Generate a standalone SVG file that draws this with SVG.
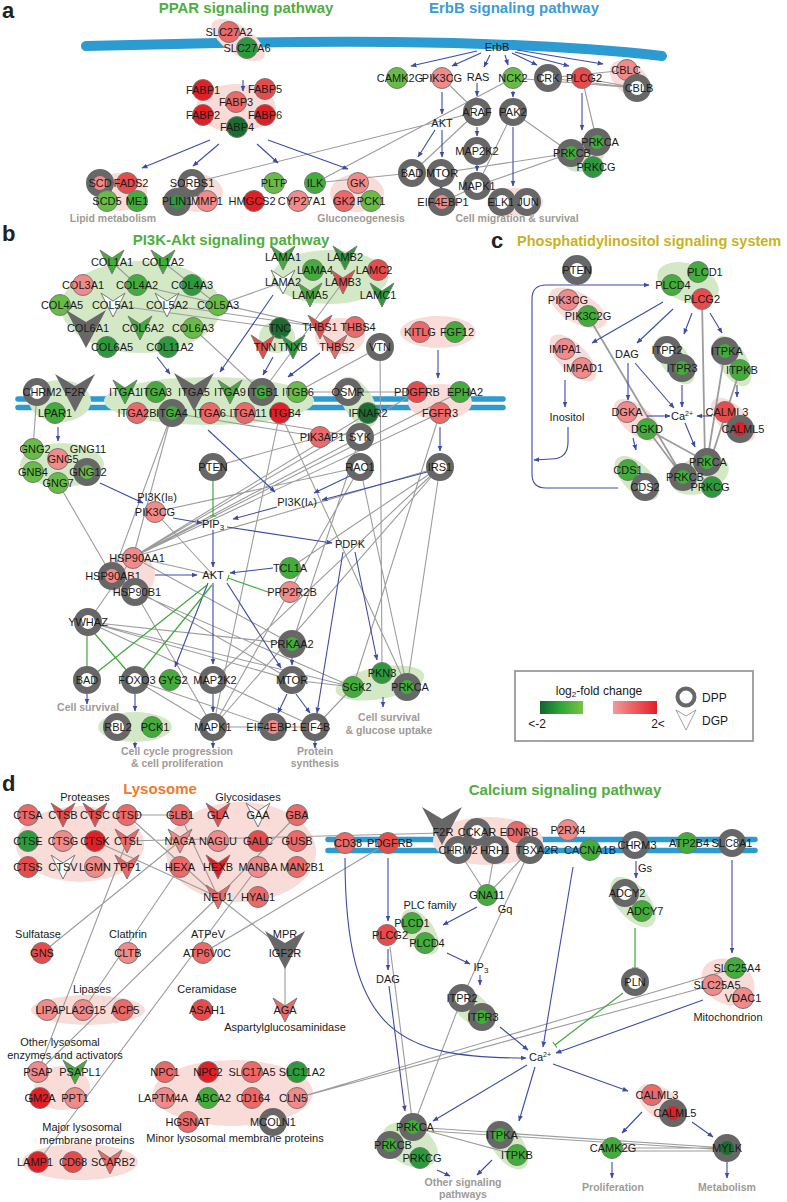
<svg xmlns="http://www.w3.org/2000/svg" xmlns:xlink="http://www.w3.org/1999/xlink" width="787" height="1202" viewBox="0 0 787 1202">
<style>
text{font-family:"Liberation Sans",Arial,sans-serif;font-size:11px;fill:#1a1a1a;text-anchor:middle}
.ttl{font-size:15px;font-weight:bold}
.pl{font-size:22px;font-weight:bold;text-anchor:start;fill:#222}
.out{font-size:10.5px;font-weight:bold;fill:#a09a96}
.n{stroke:#777;stroke-width:1}
.d{stroke:#676767;stroke-width:7}
.v{stroke:#777;stroke-width:1}
.bv{fill:#676767}
.gl{stroke:#9c9c9c;stroke-width:1.1;fill:none}
.gt{stroke:#9c9c9c;stroke-width:1.8;fill:none}
.bl{stroke:#3c4ba6;stroke-width:1.1;fill:none;marker-end:url(#ab)}
.ih{stroke:#3cab37;stroke-width:1.2;fill:none;marker-end:url(#ti)}
.pk{fill:#f9dbd7}
.gr{fill:#d3e9c6}
.mem{stroke:#2b9bd2;fill:none;stroke-linecap:round}
.R1{fill:#e31e24}.R2{fill:#e94a4a}.R3{fill:#ee6868}.R4{fill:#f28a8a}
.G1{fill:#1c6e30}.G2{fill:#2a9a3a}.G3{fill:#43ad3a}.G4{fill:#67bc45}.W{fill:#fff}
</style>
<defs>
<marker id="ab" viewBox="0 0 10 10" refX="9" refY="5" markerWidth="6" markerHeight="6" orient="auto" markerUnits="userSpaceOnUse"><path d="M0,1 L10,5 L0,9 z" fill="#3c4ba6"/></marker>
<marker id="ti" viewBox="0 0 2 10" refX="1" refY="5" markerWidth="2" markerHeight="7" orient="auto" markerUnits="userSpaceOnUse"><path d="M1,0 V10" stroke="#3cab37" stroke-width="1.5"/></marker>
<path id="v" d="M-12,-12 L0,-4 L12,-12 L0,12 Z"/>
<path id="bv" d="M-20,-19 L0,-7 L20,-19 L0,19 Z"/>
<linearGradient id="gg" x1="0" x2="1" y1="0" y2="0"><stop offset="0" stop-color="#14632c"/><stop offset="0.5" stop-color="#2ea83a"/><stop offset="1" stop-color="#7cc242"/></linearGradient>
<linearGradient id="rg" x1="0" x2="1" y1="0" y2="0"><stop offset="0" stop-color="#f29a9a"/><stop offset="1" stop-color="#e31e24"/></linearGradient>
</defs>
<rect width="787" height="1202" fill="#fff"/>

<g id="titles">
<text class="pl" x="2" y="18">a</text>
<text class="ttl" x="246" y="13" style="fill:#4fae3f">PPAR signaling pathway</text>
<text class="ttl" x="514" y="13" style="fill:#3b9bd6">ErbB signaling pathway</text>
<text class="pl" x="2" y="241">b</text>
<text class="ttl" x="231" y="245" style="fill:#4fae3f">PI3K-Akt signaling pathway</text>
<text class="pl" x="491" y="248">c</text>
<text class="ttl" x="517" y="246" style="fill:#c8b21e;text-anchor:start;font-size:14.5px">Phosphatidylinositol signaling system</text>
<text class="pl" x="2" y="791">d</text>
<text class="ttl" x="160" y="794" style="fill:#ef7a2e">Lysosome</text>
<text class="ttl" x="565" y="795" style="fill:#4fae3f">Calcium signaling pathway</text>
</g>

<g id="membranes">
<path class="mem" d="M86,46 C300,40 500,38 662,56" stroke-width="10"/>
<line class="mem" x1="18" y1="399" x2="503" y2="399" stroke-width="5.5"/>
<line class="mem" x1="18" y1="407.5" x2="503" y2="407.5" stroke-width="5.5"/>
<line class="mem" x1="328" y1="839.5" x2="755" y2="839.5" stroke-width="5.5"/>
<line class="mem" x1="328" y1="850.5" x2="755" y2="850.5" stroke-width="5.5"/>
</g>

<g id="complexes">
<ellipse class="pk" cx="238" cy="40" rx="31" ry="14" transform="rotate(35 238 40)"/>
<ellipse class="pk" cx="236" cy="108" rx="40" ry="24"/>
<ellipse class="pk" cx="120" cy="192" rx="27" ry="19"/>
<ellipse class="pk" cx="197" cy="193" rx="26" ry="19"/>
<ellipse class="pk" cx="357" cy="193" rx="27" ry="19"/>
<ellipse class="pk" cx="630" cy="79" rx="23" ry="15" transform="rotate(40 630 79)"/>
<ellipse class="pk" cx="515" cy="202" rx="28" ry="14"/>
<ellipse class="gr" cx="585" cy="155" rx="22" ry="15" transform="rotate(-30 585 155)"/>
<ellipse class="gr" cx="141" cy="307" rx="80" ry="46"/>
<ellipse class="gr" cx="330" cy="277" rx="58" ry="27"/>
<ellipse class="gr" cx="277" cy="337" rx="18" ry="16"/>
<ellipse class="pk" cx="340" cy="336" rx="25" ry="18"/>
<ellipse class="pk" cx="438" cy="332" rx="38" ry="16"/>
<ellipse class="gr" cx="60" cy="401" rx="31" ry="21"/>
<ellipse class="gr" cx="209" cy="401" rx="105" ry="24"/>
<ellipse class="gr" cx="358" cy="402" rx="28" ry="15" transform="rotate(59 358 402)"/>
<ellipse class="pk" cx="440" cy="402" rx="32" ry="18"/>
<ellipse class="gr" cx="62" cy="465" rx="42" ry="22"/>
<ellipse class="pk" cx="130" cy="575" rx="25" ry="23"/>
<ellipse class="gr" cx="380" cy="683" rx="45" ry="16" transform="rotate(-10 380 683)"/>
<ellipse class="gr" cx="135" cy="727" rx="37" ry="15"/>
<ellipse class="gr" cx="688" cy="283" rx="32" ry="19" transform="rotate(20 688 283)"/>
<ellipse class="pk" cx="578" cy="308" rx="32" ry="15" transform="rotate(30 578 308)"/>
<ellipse class="pk" cx="573" cy="358" rx="30" ry="14" transform="rotate(45 573 358)"/>
<ellipse class="gr" cx="675" cy="360" rx="28" ry="14" transform="rotate(55 675 360)"/>
<ellipse class="gr" cx="733" cy="361" rx="28" ry="14" transform="rotate(60 733 361)"/>
<ellipse class="pk" cx="637" cy="420" rx="28" ry="14" transform="rotate(40 637 420)"/>
<ellipse class="pk" cx="733" cy="420" rx="28" ry="14" transform="rotate(45 733 420)"/>
<ellipse class="gr" cx="637" cy="478" rx="28" ry="14" transform="rotate(45 637 478)"/>
<ellipse class="gr" cx="700" cy="475" rx="30" ry="18" transform="rotate(-20 700 475)"/>
<ellipse class="pk" cx="80" cy="844" rx="64" ry="38"/>
<ellipse class="pk" cx="241" cy="852" rx="75" ry="50"/>
<ellipse class="pk" cx="88" cy="1010" rx="57" ry="15"/>
<ellipse class="pk" cx="62" cy="1088" rx="28" ry="22"/>
<ellipse class="pk" cx="80" cy="1162" rx="58" ry="18"/>
<ellipse class="pk" cx="233" cy="1093" rx="80" ry="33"/>
<ellipse class="pk" cx="488" cy="841" rx="55" ry="24"/>
<ellipse class="gr" cx="420" cy="932" rx="26" ry="14" transform="rotate(55 420 932)"/>
<ellipse class="gr" cx="633" cy="902" rx="30" ry="16" transform="rotate(50 633 902)"/>
<ellipse class="pk" cx="728" cy="982" rx="28" ry="22" transform="rotate(30 728 982)"/>
<ellipse class="gr" cx="472" cy="1008" rx="28" ry="14" transform="rotate(40 472 1008)"/>
<ellipse class="gr" cx="410" cy="1145" rx="30" ry="20" transform="rotate(30 410 1145)"/>
<ellipse class="gr" cx="508" cy="1145" rx="28" ry="15" transform="rotate(55 508 1145)"/>
<ellipse class="pk" cx="662" cy="1104" rx="28" ry="15" transform="rotate(35 662 1104)"/>
</g>

<g id="connectors">
<!-- panel a grey -->
<path class="gl" d="M192,183 L477,112 M315,183 L513,78 M315,183 L412,173 M442,78 L477,112 M412,173 L477,112 M441,173 L571,153 M477,186 L513,112 M477,186 L571,153 M513,112 L571,153 M442,202 L477,186 M513,78 L637,88 M548,78 L637,88 M548,78 L627,70 M582,78 L637,88 M582,78 L597,142"/>
<!-- panel a blue -->
<line class="bl" x1="243" y1="80" x2="243" y2="91"/>
<line class="bl" x1="210" y1="140" x2="142" y2="168"/>
<line class="bl" x1="219" y1="144" x2="193" y2="166"/>
<line class="bl" x1="257" y1="144" x2="278" y2="163"/>
<line class="bl" x1="268" y1="140" x2="348" y2="169"/>
<line class="bl" x1="477" y1="51" x2="411" y2="66"/>
<line class="bl" x1="481" y1="53" x2="452" y2="66"/>
<line class="bl" x1="490" y1="55" x2="484" y2="67"/>
<line class="bl" x1="505" y1="55" x2="508" y2="65"/>
<line class="bl" x1="512" y1="53" x2="537" y2="65"/>
<line class="bl" x1="515" y1="52" x2="569" y2="66"/>
<line class="bl" x1="517" y1="50" x2="603" y2="64"/>
<line class="bl" x1="442" y1="92" x2="442" y2="114"/>
<line class="bl" x1="477" y1="83" x2="477" y2="96"/>
<line class="bl" x1="513" y1="91" x2="513" y2="97"/>
<line class="bl" x1="435" y1="130" x2="418" y2="157"/>
<line class="bl" x1="442" y1="130" x2="442" y2="157"/>
<line class="bl" x1="477" y1="127" x2="477" y2="136"/>
<line class="bl" x1="477" y1="165" x2="477" y2="171"/>
<line class="bl" x1="513" y1="127" x2="513" y2="186"/>
<line class="bl" x1="441" y1="184" x2="441" y2="190"/>
<line class="bl" x1="582" y1="93" x2="582" y2="130"/>
<!-- panel b grey -->
<path class="gl" d="M112,262 L137,285 M163,262 L218,305 M137,285 L320,327 M167,305 L320,327 M113,305 L280,328 M193,328 L262,392 M283,282 L218,305 M343,282 L262,392 M380,347 L297,392 M297,392 L417,392 M172,413 L133,557 M172,413 L112,576 M172,413 L320,437 M210,413 L360,437 M280,413 L407,687 M280,413 L213,727 M213,467 L320,437 M155,512 L360,467 M155,512 L213,575 M133,557 L360,437 M133,557 L368,413 M133,557 L440,413 M133,557 L417,392 M133,557 L460,392 M133,557 L440,467 M440,467 L213,680 M440,467 L213,727 M440,467 L407,687 M440,413 L353,687 M380,347 L382,673 M360,467 L213,727 M360,467 L407,687 M292,644 L360,437 M290,568 L440,467 M133,557 L213,575 M133,557 L292,644 M112,576 L292,680 M135,592 L353,687 M135,592 L213,727 M88,622 L133,557 M88,622 L292,644 M88,622 L292,680 M88,622 L353,687 M88,622 L315,727 M58,483 L112,576 M135,680 L213,727 M135,680 L273,727 M213,727 L315,727 M292,680 L353,687 M353,687 L315,727 M37,392 L33,449"/>
<!-- panel b blue -->
<line class="bl" x1="157" y1="357" x2="170" y2="374"/>
<line class="bl" x1="273" y1="295" x2="220" y2="372"/>
<line class="bl" x1="273" y1="357" x2="263" y2="375"/>
<line class="bl" x1="320" y1="353" x2="288" y2="377"/>
<line class="bl" x1="438" y1="350" x2="438" y2="378"/>
<line class="bl" x1="440" y1="427" x2="440" y2="451"/>
<line class="bl" x1="58" y1="427" x2="58" y2="441"/>
<line class="bl" x1="100" y1="483" x2="143" y2="503"/>
<line class="bl" x1="173" y1="518" x2="202" y2="523"/>
<line class="bl" x1="277" y1="507" x2="233" y2="519"/>
<line class="bl" x1="208" y1="430" x2="275" y2="492"/>
<line class="bl" x1="352" y1="475" x2="314" y2="493"/>
<line class="bl" x1="427" y1="472" x2="322" y2="500"/>
<line class="bl" x1="227" y1="527" x2="332" y2="543"/>
<line class="bl" x1="213" y1="530" x2="213" y2="567"/>
<line class="bl" x1="155" y1="575" x2="197" y2="575"/>
<line class="bl" x1="273" y1="568" x2="230" y2="573"/>
<line class="bl" x1="208" y1="583" x2="175" y2="667"/>
<line class="bl" x1="213" y1="583" x2="213" y2="664"/>
<line class="bl" x1="227" y1="583" x2="281" y2="668"/>
<line class="bl" x1="292" y1="657" x2="292" y2="665"/>
<line class="bl" x1="287" y1="694" x2="278" y2="713"/>
<line class="bl" x1="296" y1="694" x2="310" y2="713"/>
<line class="bl" x1="343" y1="552" x2="317" y2="713"/>
<line class="bl" x1="355" y1="552" x2="377" y2="660"/>
<line class="bl" x1="213" y1="694" x2="213" y2="712"/>
<line class="bl" x1="87" y1="694" x2="87" y2="704"/>
<line class="bl" x1="135" y1="694" x2="135" y2="711"/>
<line class="bl" x1="135" y1="742" x2="135" y2="748"/>
<line class="bl" x1="213" y1="741" x2="213" y2="748"/>
<line class="bl" x1="315" y1="741" x2="315" y2="748"/>
<line class="bl" x1="383" y1="697" x2="383" y2="707"/>
<line class="ih" x1="213" y1="481" x2="213" y2="516"/>
<line class="ih" x1="268" y1="592" x2="228" y2="578"/>
<line class="ih" x1="207" y1="585" x2="96" y2="673"/>
<line class="ih" x1="212" y1="585" x2="142" y2="671"/>
<line class="ih" x1="87" y1="634" x2="87" y2="672"/>
<line class="ih" x1="95" y1="634" x2="128" y2="672"/>
<!-- panel c -->
<path class="gt" d="M588,316 L683,477 M702,299 L705,462 M725,351 L707,462 M740,370 L710,462 M647,429 L683,477 M647,429 L707,462"/>
<path class="bl" d="M618,488 L546,488 Q532,488 532,474 L532,299 Q532,285 546,285 L649,285"/>
<path class="bl" d="M568,427 L568,442 Q568,459 551,459 L534,460"/>
<line class="bl" x1="565" y1="380" x2="565" y2="407"/>
<line class="bl" x1="663" y1="302" x2="592" y2="343"/>
<line class="bl" x1="673" y1="309" x2="637" y2="343"/>
<line class="bl" x1="692" y1="313" x2="684" y2="334"/>
<line class="bl" x1="710" y1="313" x2="722" y2="333"/>
<line class="bl" x1="628" y1="363" x2="628" y2="400"/>
<line class="bl" x1="635" y1="363" x2="674" y2="408"/>
<line class="bl" x1="682" y1="385" x2="682" y2="407"/>
<line class="bl" x1="647" y1="416" x2="670" y2="416"/>
<line class="bl" x1="712" y1="416" x2="697" y2="416"/>
<line class="bl" x1="685" y1="423" x2="695" y2="447"/>
<line class="bl" x1="633" y1="438" x2="636" y2="450"/>
<line class="bl" x1="737" y1="385" x2="737" y2="397"/>
<!-- panel d grey -->
<path class="gl" d="M127,815 L180,815 M127,841 L442,833 M95,841 L218,897 M127,815 L218,897 M180,815 L218,897 M297,815 L218,897 M218,897 L285,950 M285,950 L285,1010 M180,841 L42,953 M180,867 L83,1010 M127,841 L38,1072 M218,897 L38,1072 M258,867 L38,1162 M203,953 L388,843 M297,1098 L713,985 M297,1098 L735,968 M458,850 L487,895 M495,850 L487,895 M530,850 L487,895 M530,850 L462,998 M390,947 L413,1127 M462,998 L413,1127 M413,1127 L517,1155 M413,1127 L727,1148 M413,1130 L727,1150 M612,1148 L727,1148 M612,1151 L727,1151"/>
<!-- panel d blue -->
<line class="bl" x1="388" y1="858" x2="388" y2="921"/>
<line class="bl" x1="388" y1="949" x2="388" y2="970"/>
<line class="bl" x1="389" y1="986" x2="405" y2="1111"/>
<line class="bl" x1="477" y1="907" x2="443" y2="925"/>
<line class="bl" x1="447" y1="953" x2="470" y2="964"/>
<line class="bl" x1="480" y1="975" x2="480" y2="985"/>
<line class="bl" x1="636" y1="861" x2="636" y2="878"/>
<line class="bl" x1="732" y1="860" x2="732" y2="953"/>
<line class="bl" x1="573" y1="867" x2="543" y2="1047"/>
<line class="bl" x1="703" y1="1000" x2="556" y2="1053"/>
<line class="bl" x1="500" y1="1027" x2="528" y2="1050"/>
<path class="bl" d="M345,858 C345,1035 400,1058 526,1058"/>
<line class="bl" x1="527" y1="1065" x2="433" y2="1121"/>
<line class="bl" x1="535" y1="1067" x2="519" y2="1121"/>
<line class="bl" x1="553" y1="1064" x2="628" y2="1091"/>
<line class="bl" x1="642" y1="1112" x2="622" y2="1133"/>
<line class="bl" x1="692" y1="1122" x2="713" y2="1137"/>
<line class="bl" x1="437" y1="1170" x2="450" y2="1176"/>
<line class="bl" x1="492" y1="1160" x2="477" y2="1175"/>
<line class="bl" x1="612" y1="1162" x2="612" y2="1178"/>
<line class="bl" x1="727" y1="1162" x2="727" y2="1178"/>
<line class="ih" x1="635" y1="928" x2="635" y2="968"/>
<line class="ih" x1="623" y1="993" x2="555" y2="1045"/>
</g>

<g id="nodes-a">
<g id="a-SLC27A2"><circle class="n R3" cx="229" cy="32" r="10.5"/><text x="229" y="36">SLC27A2</text></g>
<g id="a-SLC27A6"><circle class="n G2" cx="247" cy="48" r="10.5"/><text x="247" y="52">SLC27A6</text></g>
<g id="a-FABP1"><circle class="n R1" cx="203" cy="90" r="10.5"/><text x="203" y="94">FABP1</text></g>
<g id="a-FABP5"><circle class="n R2" cx="265" cy="89" r="10.5"/><text x="265" y="93">FABP5</text></g>
<g id="a-FABP3"><circle class="n R3" cx="236" cy="102" r="10.5"/><text x="236" y="106">FABP3</text></g>
<g id="a-FABP2"><circle class="n R1" cx="203" cy="115" r="10.5"/><text x="203" y="119">FABP2</text></g>
<g id="a-FABP6"><circle class="n R1" cx="265" cy="115" r="10.5"/><text x="265" y="119">FABP6</text></g>
<g id="a-FABP4"><circle class="n G1" cx="237" cy="127" r="10.5"/><text x="237" y="131">FABP4</text></g>
<g id="a-SCD"><circle class="d R4" cx="100" cy="183" r="10.5"/><text x="100" y="187">SCD</text></g>
<g id="a-FADS2"><circle class="n R2" cx="127" cy="183" r="10.5"/><text x="131" y="187">FADS2</text></g>
<g id="a-SCD5"><circle class="n G4" cx="107" cy="201" r="10.5"/><text x="107" y="205">SCD5</text></g>
<g id="a-ME1"><circle class="n G3" cx="137" cy="201" r="10.5"/><text x="137" y="205">ME1</text></g>
<g id="a-SORBS1"><circle class="d W" cx="192" cy="183" r="10.5"/><text x="192" y="187">SORBS1</text></g>
<g id="a-PLIN1"><circle class="d G2" cx="177" cy="202" r="10.5"/><text x="177" y="205">PLIN1</text></g>
<g id="a-MMP1"><circle class="n R4" cx="207" cy="201" r="10.5"/><text x="207" y="205">MMP1</text></g>
<g id="a-PLTP"><circle class="n G4" cx="274" cy="183" r="10.5"/><text x="274" y="187">PLTP</text></g>
<g id="a-HMGCS2"><circle class="n R1" cx="254" cy="201" r="10.5"/><text x="252" y="205">HMGCS2</text></g>
<g id="a-ILK"><circle class="n G3" cx="315" cy="183" r="10.5"/><text x="315" y="187">ILK</text></g>
<g id="a-CYP27A1"><circle class="n R4" cx="298" cy="201" r="10.5"/><text x="302" y="205">CYP27A1</text></g>
<g id="a-GK"><circle class="n R4" cx="358" cy="183" r="10.5"/><text x="358" y="187">GK</text></g>
<g id="a-GK2"><circle class="n R3" cx="344" cy="201" r="10.5"/><text x="344" y="205">GK2</text></g>
<g id="a-PCK1"><circle class="n G4" cx="371" cy="201" r="10.5"/><text x="371" y="205">PCK1</text></g>
<g id="a-ErbB"><text x="497" y="51">ErbB</text></g>
<g id="a-CAMK2G"><circle class="n G4" cx="397" cy="78" r="10.5"/><text x="400" y="82">CAMK2G</text></g>
<g id="a-PIK3CG"><circle class="n R4" cx="442" cy="78" r="10.5"/><text x="442" y="82">PIK3CG</text></g>
<g id="a-RAS"><text x="478" y="81">RAS</text></g>
<g id="a-NCK2"><circle class="n G4" cx="513" cy="78" r="10.5"/><text x="513" y="82">NCK2</text></g>
<g id="a-CRK"><circle class="d W" cx="548" cy="78" r="10.5"/><text x="548" y="82">CRK</text></g>
<g id="a-PLCG2"><circle class="n R2" cx="582" cy="78" r="10.5"/><text x="584" y="82">PLCG2</text></g>
<g id="a-CBLC"><circle class="n R4" cx="627" cy="70" r="10.5"/><text x="626" y="74">CBLC</text></g>
<g id="a-CBLB"><circle class="d W" cx="637" cy="88" r="10.5"/><text x="639" y="92">CBLB</text></g>
<g id="a-ARAF"><circle class="d W" cx="477" cy="112" r="10.5"/><text x="477" y="116">ARAF</text></g>
<g id="a-PAK2"><circle class="d W" cx="513" cy="112" r="10.5"/><text x="513" y="116">PAK2</text></g>
<g id="a-AKT"><text x="442" y="127">AKT</text></g>
<g id="a-MAP2K2"><circle class="d W" cx="477" cy="151" r="10.5"/><text x="477" y="155">MAP2K2</text></g>
<g id="a-BAD"><circle class="d W" cx="412" cy="173" r="10.5"/><text x="412" y="177">BAD</text></g>
<g id="a-MTOR"><circle class="d W" cx="441" cy="173" r="10.5"/><text x="442" y="177">MTOR</text></g>
<g id="a-MAPK1"><circle class="d W" cx="477" cy="186" r="10.5"/><text x="477" y="190">MAPK1</text></g>
<g id="a-EIF4EBP1"><circle class="d R4" cx="442" cy="202" r="10.5"/><text x="443" y="206">EIF4EBP1</text></g>
<g id="a-ELK1"><circle class="d W" cx="502" cy="202" r="10.5"/><text x="501" y="206">ELK1</text></g>
<g id="a-JUN"><circle class="d W" cx="527" cy="202" r="10.5"/><text x="528" y="206">JUN</text></g>
<g id="a-PRKCA"><circle class="d G3" cx="597" cy="142" r="10.5"/><text x="600" y="146">PRKCA</text></g>
<g id="a-PRKCB"><circle class="d G3" cx="571" cy="153" r="10.5"/><text x="572" y="157">PRKCB</text></g>
<g id="a-PRKCG"><circle class="n G2" cx="593" cy="167" r="10.5"/><text x="596" y="171">PRKCG</text></g>
<text class="out" x="113" y="222">Lipid metabolism</text>
<text class="out" x="361" y="222">Gluconeogenesis</text>
<text class="out" x="517" y="222">Cell migration &amp; survival</text>
</g>

<g id="nodes-b">
<g id="b-COL1A1"><use href="#v" x="112" y="262" class="v G3"/><text x="112" y="266">COL1A1</text></g>
<g id="b-COL1A2"><use href="#v" x="163" y="262" class="v G3"/><text x="163" y="266">COL1A2</text></g>
<g id="b-COL3A1"><circle class="n R4" cx="83" cy="285" r="10.5"/><text x="83" y="289">COL3A1</text></g>
<g id="b-COL4A2"><circle class="n G3" cx="137" cy="285" r="10.5"/><text x="137" y="289">COL4A2</text></g>
<g id="b-COL4A3"><circle class="n G2" cx="192" cy="285" r="10.5"/><text x="192" y="289">COL4A3</text></g>
<g id="b-COL4A5"><circle class="n G4" cx="60" cy="305" r="10.5"/><text x="62" y="309">COL4A5</text></g>
<g id="b-COL5A1"><use href="#v" x="113" y="305" class="v W"/><text x="113" y="309">COL5A1</text></g>
<g id="b-COL5A2"><use href="#v" x="167" y="305" class="v W"/><text x="167" y="309">COL5A2</text></g>
<g id="b-COL5A3"><circle class="n G4" cx="218" cy="305" r="10.5"/><text x="218" y="309">COL5A3</text></g>
<g id="b-COL6A1"><use href="#bv" x="86" y="329" class="bv"/><text x="88" y="332">COL6A1</text></g>
<g id="b-COL6A2"><use href="#v" x="140" y="328" class="v G3"/><text x="143" y="332">COL6A2</text></g>
<g id="b-COL6A3"><circle class="n G4" cx="193" cy="328" r="10.5"/><text x="193" y="332">COL6A3</text></g>
<g id="b-COL6A5"><circle class="n G2" cx="107" cy="347" r="10.5"/><text x="112" y="351">COL6A5</text></g>
<g id="b-COL11A2"><circle class="n G2" cx="168" cy="347" r="10.5"/><text x="170" y="351">COL11A2</text></g>
<g id="b-LAMA1"><use href="#v" x="283" y="258" class="v G3"/><text x="283" y="261">LAMA1</text></g>
<g id="b-LAMB2"><use href="#v" x="345" y="258" class="v G2"/><text x="345" y="261">LAMB2</text></g>
<g id="b-LAMA4"><circle class="n G3" cx="313" cy="270" r="10.5"/><text x="315" y="274">LAMA4</text></g>
<g id="b-LAMC2"><circle class="n R2" cx="378" cy="270" r="10.5"/><text x="374" y="274">LAMC2</text></g>
<g id="b-LAMA2"><use href="#v" x="283" y="282" class="v W"/><text x="283" y="286">LAMA2</text></g>
<g id="b-LAMB3"><use href="#v" x="343" y="282" class="v R2"/><text x="343" y="286">LAMB3</text></g>
<g id="b-LAMA5"><use href="#v" x="310" y="295" class="v G3"/><text x="310" y="299">LAMA5</text></g>
<g id="b-LAMC1"><use href="#v" x="382" y="295" class="v G2"/><text x="378" y="299">LAMC1</text></g>
<g id="b-TNC"><circle class="n G1" cx="280" cy="328" r="10.5"/><text x="280" y="332">TNC</text></g>
<g id="b-TNN"><use href="#v" x="263" y="347" class="v R2"/><text x="265" y="351">TNN</text></g>
<g id="b-TNXB"><use href="#v" x="293" y="347" class="v G2"/><text x="293" y="351">TNXB</text></g>
<g id="b-THBS1"><use href="#v" x="320" y="327" class="v R2"/><text x="320" y="331">THBS1</text></g>
<g id="b-THBS4"><circle class="n R3" cx="355" cy="327" r="10.5"/><text x="358" y="331">THBS4</text></g>
<g id="b-THBS2"><use href="#v" x="335" y="347" class="v R3"/><text x="337" y="351">THBS2</text></g>
<g id="b-VTN"><circle class="d W" cx="380" cy="347" r="10.5"/><text x="380" y="351">VTN</text></g>
<g id="b-KITLG"><circle class="n R3" cx="420" cy="332" r="10.5"/><text x="420" y="336">KITLG</text></g>
<g id="b-FGF12"><circle class="n G3" cx="455" cy="332" r="10.5"/><text x="457" y="336">FGF12</text></g>
<g id="b-CHRM2"><circle class="d W" cx="37" cy="392" r="10.5"/><text x="42" y="396">CHRM2</text></g>
<g id="b-F2R"><use href="#bv" x="75" y="393" class="bv"/><text x="75" y="396">F2R</text></g>
<g id="b-LPAR1"><circle class="n G3" cx="55" cy="413" r="10.5"/><text x="55" y="417">LPAR1</text></g>
<g id="b-ITGA1"><use href="#v" x="125" y="392" class="v G3"/><text x="125" y="396">ITGA1</text></g>
<g id="b-ITGA3"><circle class="n G3" cx="156" cy="392" r="10.5"/><text x="156" y="396">ITGA3</text></g>
<g id="b-ITGA5"><use href="#bv" x="194" y="392" class="bv"/><text x="194" y="396">ITGA5</text></g>
<g id="b-ITGA9"><use href="#v" x="230" y="392" class="v G3"/><text x="230" y="396">ITGA9</text></g>
<g id="b-ITGB1"><circle class="d G3" cx="262" cy="392" r="10.5"/><text x="263" y="396">ITGB1</text></g>
<g id="b-ITGB6"><circle class="n G4" cx="297" cy="392" r="10.5"/><text x="298" y="396">ITGB6</text></g>
<g id="b-ITGA2B"><circle class="n R3" cx="137" cy="413" r="10.5"/><text x="137" y="417">ITGA2B</text></g>
<g id="b-ITGA4"><circle class="d G3" cx="172" cy="413" r="10.5"/><text x="172" y="417">ITGA4</text></g>
<g id="b-ITGA6"><circle class="n R3" cx="210" cy="413" r="10.5"/><text x="210" y="417">ITGA6</text></g>
<g id="b-ITGA11"><circle class="n R3" cx="245" cy="413" r="10.5"/><text x="248" y="417">ITGA11</text></g>
<g id="b-ITGB4"><circle class="n R1" cx="280" cy="413" r="10.5"/><text x="285" y="417">ITGB4</text></g>
<g id="b-OSMR"><circle class="d W" cx="348" cy="392" r="10.5"/><text x="348" y="396">OSMR</text></g>
<g id="b-IFNAR2"><circle class="n G1" cx="368" cy="413" r="10.5"/><text x="368" y="417">IFNAR2</text></g>
<g id="b-PDGFRB"><circle class="n R2" cx="417" cy="392" r="10.5"/><text x="417" y="396">PDGFRB</text></g>
<g id="b-EPHA2"><circle class="n G3" cx="460" cy="392" r="10.5"/><text x="465" y="396">EPHA2</text></g>
<g id="b-FGFR3"><circle class="n R3" cx="440" cy="413" r="10.5"/><text x="440" y="417">FGFR3</text></g>
<g id="b-PIK3AP1"><circle class="n R3" cx="320" cy="437" r="10.5"/><text x="322" y="441">PIK3AP1</text></g>
<g id="b-SYK"><circle class="d W" cx="360" cy="437" r="10.5"/><text x="360" y="441">SYK</text></g>
<g id="b-PTEN"><circle class="d W" cx="213" cy="467" r="10.5"/><text x="213" y="471">PTEN</text></g>
<g id="b-RAC1"><circle class="d W" cx="360" cy="467" r="10.5"/><text x="360" y="471">RAC1</text></g>
<g id="b-IRS1"><circle class="d W" cx="440" cy="467" r="10.5"/><text x="440" y="471">IRS1</text></g>
<g id="b-GNG2"><circle class="n G4" cx="33" cy="449" r="10.5"/><text x="35" y="453">GNG2</text></g>
<g id="b-GNG11"><text x="88" y="453">GNG11</text></g>
<g id="b-GNG5"><circle class="n R4" cx="58" cy="459" r="10.5"/><text x="63" y="463">GNG5</text></g>
<g id="b-GNB4"><circle class="n G4" cx="33" cy="472" r="10.5"/><text x="33" y="476">GNB4</text></g>
<g id="b-GNG12"><circle class="d G4" cx="87" cy="472" r="10.5"/><text x="88" y="476">GNG12</text></g>
<g id="b-GNG7"><circle class="n G4" cx="58" cy="483" r="10.5"/><text x="58" y="487">GNG7</text></g>
<g id="b-PI3KIB"><text x="157" y="501">PI3K(I<tspan font-size="8">B</tspan>)</text></g>
<g id="b-PIK3CG"><circle class="n R4" cx="155" cy="512" r="10.5"/><text x="155" y="516">PIK3CG</text></g>
<g id="b-PI3KIA"><text x="297" y="506">PI3K(I<tspan font-size="8">A</tspan>)</text></g>
<g id="b-PIP3"><text x="213" y="528">PIP<tspan font-size="8" dy="2">3</tspan></text></g>
<g id="b-PDPK"><text x="350" y="548">PDPK</text></g>
<g id="b-AKT"><text x="213" y="579">AKT</text></g>
<g id="b-HSP90AA1"><circle class="n R4" cx="133" cy="558" r="10.5"/><text x="137" y="562">HSP90AA1</text></g>
<g id="b-HSP90AB1"><circle class="d R4" cx="112" cy="576" r="10.5"/><text x="113" y="580">HSP90AB1</text></g>
<g id="b-HSP90B1"><circle class="d W" cx="135" cy="592" r="10.5"/><text x="137" y="596">HSP90B1</text></g>
<g id="b-TCL1A"><circle class="n G3" cx="290" cy="568" r="10.5"/><text x="290" y="572">TCL1A</text></g>
<g id="b-PPP2R2B"><circle class="n R4" cx="290" cy="592" r="10.5"/><text x="292" y="596">PPP2R2B</text></g>
<g id="b-YWHAZ"><circle class="d W" cx="88" cy="622" r="10.5"/><text x="88" y="626">YWHAZ</text></g>
<g id="b-PRKAA2"><circle class="d G3" cx="292" cy="644" r="10.5"/><text x="292" y="648">PRKAA2</text></g>
<g id="b-BAD"><circle class="d W" cx="87" cy="680" r="10.5"/><text x="87" y="684">BAD</text></g>
<g id="b-FOXO3"><circle class="d W" cx="135" cy="680" r="10.5"/><text x="137" y="684">FOXO3</text></g>
<g id="b-GYS2"><circle class="n G3" cx="170" cy="680" r="10.5"/><text x="173" y="684">GYS2</text></g>
<g id="b-MAP2K2"><circle class="d W" cx="213" cy="680" r="10.5"/><text x="215" y="684">MAP2K2</text></g>
<g id="b-MTOR"><circle class="d W" cx="292" cy="680" r="10.5"/><text x="292" y="684">MTOR</text></g>
<g id="b-PKN3"><circle class="n G2" cx="382" cy="673" r="10.5"/><text x="382" y="677">PKN3</text></g>
<g id="b-SGK2"><circle class="n G3" cx="353" cy="687" r="10.5"/><text x="357" y="691">SGK2</text></g>
<g id="b-PRKCA"><circle class="d G3" cx="407" cy="687" r="10.5"/><text x="410" y="691">PRKCA</text></g>
<g id="b-RBL2"><circle class="d W" cx="117" cy="727" r="10.5"/><text x="118" y="731">RBL2</text></g>
<g id="b-PCK1"><circle class="n G3" cx="152" cy="727" r="10.5"/><text x="155" y="731">PCK1</text></g>
<g id="b-MAPK1"><circle class="d W" cx="213" cy="727" r="10.5"/><text x="213" y="731">MAPK1</text></g>
<g id="b-EIF4EBP1"><circle class="d R4" cx="273" cy="727" r="10.5"/><text x="272" y="731">EIF4EBP1</text></g>
<g id="b-EIF4B"><circle class="d W" cx="315" cy="727" r="10.5"/><text x="315" y="731">EIF4B</text></g>
<text class="out" x="88" y="711">Cell survival</text>
<text class="out" x="177" y="755">Cell cycle progression</text>
<text class="out" x="177" y="767">&amp; cell proliferation</text>
<text class="out" x="315" y="755">Protein</text>
<text class="out" x="315" y="767">synthesis</text>
<text class="out" x="389" y="721">Cell survival</text>
<text class="out" x="389" y="734">&amp; glucose uptake</text>
</g>

<g id="nodes-c">
<g id="c-PTEN"><circle class="d W" cx="577" cy="270" r="11" style="stroke-width:8"/><text x="577" y="274">PTEN</text></g>
<g id="c-PLCD1"><circle class="n G3" cx="698" cy="272" r="10.5"/><text x="705" y="276">PLCD1</text></g>
<g id="c-PLCD4"><circle class="n G3" cx="672" cy="285" r="10.5"/><text x="673" y="289">PLCD4</text></g>
<g id="c-PLCG2"><circle class="n R2" cx="702" cy="299" r="10.5"/><text x="702" y="303">PLCG2</text></g>
<g id="c-PIK3CG"><circle class="n R4" cx="568" cy="300" r="10.5"/><text x="568" y="304">PIK3CG</text></g>
<g id="c-PIK3C2G"><circle class="n G3" cx="588" cy="316" r="10.5"/><text x="588" y="320">PIK3C2G</text></g>
<g id="c-IMPA1"><circle class="n R4" cx="565" cy="349" r="10.5"/><text x="565" y="353">IMPA1</text></g>
<g id="c-IMPAD1"><circle class="n R4" cx="582" cy="368" r="10.5"/><text x="583" y="372">IMPAD1</text></g>
<g id="c-DAG"><text x="627" y="358">DAG</text></g>
<g id="c-ITPR2"><circle class="d W" cx="667" cy="350" r="10.5"/><text x="667" y="354">ITPR2</text></g>
<g id="c-ITPR3"><circle class="d G3" cx="682" cy="368" r="10.5"/><text x="682" y="372">ITPR3</text></g>
<g id="c-ITPKA"><circle class="d G3" cx="725" cy="351" r="10.5"/><text x="727" y="355">ITPKA</text></g>
<g id="c-ITPKB"><circle class="n G3" cx="740" cy="370" r="10.5"/><text x="742" y="374">ITPKB</text></g>
<g id="c-Inositol"><text x="567" y="421">Inositol</text></g>
<g id="c-DGKA"><circle class="n R4" cx="627" cy="412" r="10.5"/><text x="627" y="416">DGKA</text></g>
<g id="c-DGKD"><circle class="n G3" cx="647" cy="429" r="10.5"/><text x="647" y="433">DGKD</text></g>
<g id="c-Ca"><text x="682" y="420">Ca<tspan font-size="7" dy="-4">2+</tspan></text></g>
<g id="c-CALML3"><circle class="n R2" cx="725" cy="412" r="10.5"/><text x="727" y="416">CALML3</text></g>
<g id="c-CALML5"><circle class="d R1" cx="740" cy="429" r="10.5"/><text x="743" y="433">CALML5</text></g>
<g id="c-CDS1"><circle class="n G3" cx="628" cy="470" r="10.5"/><text x="628" y="474">CDS1</text></g>
<g id="c-CDS2"><circle class="d W" cx="645" cy="487" r="10.5"/><text x="645" y="491">CDS2</text></g>
<g id="c-PRKCA"><circle class="d G3" cx="707" cy="462" r="10.5"/><text x="708" y="466">PRKCA</text></g>
<g id="c-PRKCB"><circle class="d G3" cx="683" cy="477" r="10.5"/><text x="685" y="481">PRKCB</text></g>
<g id="c-PRKCG"><circle class="n G2" cx="712" cy="487" r="10.5"/><text x="710" y="491">PRKCG</text></g>
</g>

<g id="legend">
<rect x="515" y="671" width="238" height="70" fill="#fff" stroke="#999" stroke-width="1.8"/>
<text x="599" y="695" style="font-size:12px">log<tspan font-size="8" dy="2">2</tspan><tspan dy="-2">-fold change</tspan></text>
<rect x="540" y="701" width="43" height="13" fill="url(#gg)"/>
<rect x="613" y="701" width="44" height="13" fill="url(#rg)"/>
<text x="537" y="728" style="font-size:12px">&lt;-2</text>
<text x="658" y="728" style="font-size:12px">2&lt;</text>
<circle cx="686" cy="697" r="8.5" fill="#fff" stroke="#676767" stroke-width="4"/>
<text x="702" y="702" style="font-size:12px;text-anchor:start">DPP</text>
<path d="M676,710 L686,716 L696,710 L686,730 Z" fill="#fff" stroke="#888" stroke-width="0.8"/>
<text x="702" y="725" style="font-size:12px;text-anchor:start">DGP</text>
</g>

<g id="nodes-d">
<text x="85" y="801">Proteases</text>
<text x="248" y="801">Glycosidases</text>
<g id="d-CTSA"><circle class="n R3" cx="28" cy="815" r="10.5"/><text x="28" y="819">CTSA</text></g>
<g id="d-CTSB"><use href="#v" x="63" y="815" class="v R2"/><text x="63" y="819">CTSB</text></g>
<g id="d-CTSC"><use href="#v" x="95" y="815" class="v R2"/><text x="95" y="819">CTSC</text></g>
<g id="d-CTSD"><circle class="n R3" cx="127" cy="815" r="10.5"/><text x="127" y="819">CTSD</text></g>
<g id="d-CTSE"><circle class="n G2" cx="28" cy="841" r="10.5"/><text x="28" y="845">CTSE</text></g>
<g id="d-CTSG"><circle class="n R4" cx="63" cy="841" r="10.5"/><text x="63" y="845">CTSG</text></g>
<g id="d-CTSK"><circle class="n R1" cx="95" cy="841" r="10.5"/><text x="95" y="845">CTSK</text></g>
<g id="d-CTSL"><use href="#v" x="127" y="841" class="v R3"/><text x="128" y="845">CTSL</text></g>
<g id="d-CTSS"><circle class="n R2" cx="28" cy="867" r="10.5"/><text x="28" y="871">CTSS</text></g>
<g id="d-CTSV"><use href="#v" x="63" y="867" class="v W"/><text x="63" y="871">CTSV</text></g>
<g id="d-LGMN"><circle class="n R4" cx="95" cy="867" r="10.5"/><text x="95" y="871">LGMN</text></g>
<g id="d-TPP1"><use href="#v" x="127" y="867" class="v R3"/><text x="127" y="871">TPP1</text></g>
<g id="d-GLB1"><circle class="n R3" cx="180" cy="815" r="10.5"/><text x="180" y="819">GLB1</text></g>
<g id="d-GLA"><use href="#v" x="218" y="815" class="v R2"/><text x="218" y="819">GLA</text></g>
<g id="d-GAA"><use href="#v" x="258" y="815" class="v W"/><text x="258" y="819">GAA</text></g>
<g id="d-GBA"><circle class="n R3" cx="297" cy="815" r="10.5"/><text x="297" y="819">GBA</text></g>
<g id="d-NAGA"><use href="#v" x="180" y="841" class="v R4"/><text x="180" y="845">NAGA</text></g>
<g id="d-NAGLU"><circle class="n R4" cx="218" cy="841" r="10.5"/><text x="218" y="845">NAGLU</text></g>
<g id="d-GALC"><circle class="n R2" cx="258" cy="841" r="10.5"/><text x="258" y="845">GALC</text></g>
<g id="d-GUSB"><circle class="n R3" cx="297" cy="841" r="10.5"/><text x="297" y="845">GUSB</text></g>
<g id="d-HEXA"><circle class="n R3" cx="180" cy="867" r="10.5"/><text x="180" y="871">HEXA</text></g>
<g id="d-HEXB"><use href="#v" x="218" y="867" class="v R1"/><text x="218" y="871">HEXB</text></g>
<g id="d-MANBA"><circle class="n R4" cx="258" cy="867" r="10.5"/><text x="258" y="871">MANBA</text></g>
<g id="d-MAN2B1"><circle class="n R3" cx="297" cy="867" r="10.5"/><text x="302" y="871">MAN2B1</text></g>
<g id="d-NEU1"><use href="#v" x="218" y="897" class="v R3"/><text x="218" y="901">NEU1</text></g>
<g id="d-HYAL1"><circle class="n R3" cx="258" cy="897" r="10.5"/><text x="258" y="901">HYAL1</text></g>
<text x="38" y="938">Sulfatase</text>
<text x="128" y="938">Clathrin</text>
<text x="208" y="938">ATPeV</text>
<text x="285" y="938">MPR</text>
<g id="d-GNS"><circle class="n R2" cx="42" cy="953" r="10.5"/><text x="42" y="957">GNS</text></g>
<g id="d-CLTB"><circle class="n R4" cx="128" cy="953" r="10.5"/><text x="128" y="957">CLTB</text></g>
<g id="d-ATP6V0C"><circle class="n R3" cx="203" cy="953" r="10.5"/><text x="207" y="957">ATP6V0C</text></g>
<g id="d-IGF2R"><use href="#bv" x="285" y="950" class="bv"/><text x="285" y="957">IGF2R</text></g>
<text x="92" y="993">Lipases</text>
<text x="207" y="993">Ceramidase</text>
<g id="d-LIPA"><circle class="n R4" cx="47" cy="1010" r="10.5"/><text x="47" y="1014">LIPA</text></g>
<g id="d-PLA2G15"><circle class="n R4" cx="83" cy="1010" r="10.5"/><text x="82" y="1014">PLA2G15</text></g>
<g id="d-ACP5"><circle class="n R3" cx="123" cy="1010" r="10.5"/><text x="125" y="1014">ACP5</text></g>
<g id="d-ASAH1"><circle class="n R2" cx="202" cy="1010" r="10.5"/><text x="207" y="1014">ASAH1</text></g>
<g id="d-AGA"><use href="#v" x="285" y="1010" class="v R3"/><text x="285" y="1014">AGA</text></g>
<text x="285" y="1031">Aspartylglucosaminidase</text>
<text x="60" y="1046">Other lysosomal</text>
<text x="65" y="1059">enzymes and activators</text>
<g id="d-PSAP"><circle class="n R4" cx="38" cy="1072" r="10.5"/><text x="38" y="1076">PSAP</text></g>
<g id="d-PSAPL1"><use href="#v" x="75" y="1072" class="v G3"/><text x="80" y="1076">PSAPL1</text></g>
<g id="d-GM2A"><circle class="n R1" cx="40" cy="1098" r="10.5"/><text x="40" y="1102">GM2A</text></g>
<g id="d-PPT1"><circle class="n R4" cx="75" cy="1098" r="10.5"/><text x="75" y="1102">PPT1</text></g>
<text x="82" y="1131">Major lysosomal</text>
<text x="87" y="1144">membrane proteins</text>
<g id="d-LAMP1"><circle class="n R1" cx="38" cy="1162" r="10.5"/><text x="35" y="1166">LAMP1</text></g>
<g id="d-CD68"><circle class="n R2" cx="73" cy="1162" r="10.5"/><text x="73" y="1166">CD68</text></g>
<g id="d-SCARB2"><use href="#v" x="110" y="1162" class="v R3"/><text x="113" y="1166">SCARB2</text></g>
<g id="d-NPC1"><circle class="n R3" cx="165" cy="1072" r="10.5"/><text x="165" y="1076">NPC1</text></g>
<g id="d-NPC2"><circle class="n R1" cx="208" cy="1072" r="10.5"/><text x="208" y="1076">NPC2</text></g>
<g id="d-SLC17A5"><circle class="n R3" cx="252" cy="1072" r="10.5"/><text x="252" y="1076">SLC17A5</text></g>
<g id="d-SLC11A2"><circle class="n G2" cx="297" cy="1072" r="10.5"/><text x="302" y="1076">SLC11A2</text></g>
<g id="d-LAPTM4A"><circle class="n R4" cx="165" cy="1098" r="10.5"/><text x="163" y="1102">LAPTM4A</text></g>
<g id="d-ABCA2"><circle class="n G3" cx="208" cy="1098" r="10.5"/><text x="213" y="1102">ABCA2</text></g>
<g id="d-CD164"><circle class="n R3" cx="252" cy="1098" r="10.5"/><text x="253" y="1102">CD164</text></g>
<g id="d-CLN5"><circle class="n R4" cx="297" cy="1098" r="10.5"/><text x="293" y="1102">CLN5</text></g>
<g id="d-HGSNAT"><circle class="n R3" cx="188" cy="1122" r="10.5"/><text x="188" y="1126">HGSNAT</text></g>
<g id="d-MCOLN1"><circle class="d W" cx="273" cy="1122" r="10.5"/><text x="273" y="1126">MCOLN1</text></g>
<text x="235" y="1142">Minor lysosomal membrane proteins</text>

<g id="d-CD38"><circle class="n R3" cx="345" cy="843" r="10.5"/><text x="348" y="847">CD38</text></g>
<g id="d-PDGFRB"><circle class="n R2" cx="388" cy="843" r="10.5"/><text x="390" y="847">PDGFRB</text></g>
<g id="d-F2R"><use href="#bv" x="442" y="826" class="bv"/><text x="443" y="836">F2R</text></g>
<g id="d-CCKAR"><circle class="d W" cx="477" cy="832" r="10.5"/><text x="477" y="836">CCKAR</text></g>
<g id="d-EDNRB"><circle class="n R3" cx="517" cy="832" r="10.5"/><text x="519" y="836">EDNRB</text></g>
<g id="d-CHRM2"><circle class="d W" cx="458" cy="850" r="10.5"/><text x="458" y="854">CHRM2</text></g>
<g id="d-HRH1"><circle class="d W" cx="495" cy="850" r="10.5"/><text x="495" y="854">HRH1</text></g>
<g id="d-TBXA2R"><circle class="d W" cx="530" cy="850" r="10.5"/><text x="537" y="854">TBXA2R</text></g>
<g id="d-P2RX4"><circle class="n R4" cx="568" cy="830" r="10.5"/><text x="568" y="834">P2RX4</text></g>
<g id="d-CACNA1B"><circle class="n G3" cx="590" cy="850" r="10.5"/><text x="590" y="854">CACNA1B</text></g>
<g id="d-CHRM3"><circle class="d W" cx="635" cy="845" r="10.5"/><text x="637" y="849">CHRM3</text></g>
<g id="d-ATP2B4"><circle class="n G3" cx="687" cy="843" r="10.5"/><text x="689" y="847">ATP2B4</text></g>
<g id="d-SLC8A1"><circle class="d W" cx="732" cy="843" r="10.5"/><text x="732" y="847">SLC8A1</text></g>
<g id="d-GNA11"><circle class="n G3" cx="487" cy="895" r="10.5"/><text x="487" y="899">GNA11</text></g>
<g id="d-Gq"><text x="505" y="913">Gq</text></g>
<g id="d-PLCfamily"><text x="430" y="909">PLC family</text></g>
<g id="d-PLCD1"><circle class="n G3" cx="412" cy="923" r="10.5"/><text x="412" y="927">PLCD1</text></g>
<g id="d-PLCD4"><circle class="n G3" cx="425" cy="943" r="10.5"/><text x="427" y="947">PLCD4</text></g>
<g id="d-PLCG2"><circle class="n R2" cx="387" cy="935" r="10.5"/><text x="390" y="939">PLCG2</text></g>
<g id="d-DAG"><text x="388" y="983">DAG</text></g>
<g id="d-IP3"><text x="481" y="971">IP<tspan font-size="8" dy="2">3</tspan></text></g>
<g id="d-Gs"><text x="645" y="872">Gs</text></g>
<g id="d-ADCY2"><circle class="d W" cx="625" cy="893" r="10.5"/><text x="627" y="897">ADCY2</text></g>
<g id="d-ADCY7"><circle class="n G3" cx="642" cy="911" r="10.5"/><text x="645" y="915">ADCY7</text></g>
<g id="d-PLN"><circle class="d W" cx="635" cy="982" r="10.5"/><text x="635" y="986">PLN</text></g>
<g id="d-SLC25A4"><circle class="n G3" cx="735" cy="968" r="10.5"/><text x="737" y="972">SLC25A4</text></g>
<g id="d-SLC25A5"><circle class="n R4" cx="713" cy="985" r="10.5"/><text x="717" y="989">SLC25A5</text></g>
<g id="d-VDAC1"><circle class="n R4" cx="743" cy="998" r="10.5"/><text x="743" y="1002">VDAC1</text></g>
<text x="728" y="1021">Mitochondrion</text>
<g id="d-ITPR2"><circle class="d W" cx="462" cy="998" r="10.5"/><text x="462" y="1002">ITPR2</text></g>
<g id="d-ITPR3"><circle class="d G3" cx="482" cy="1017" r="10.5"/><text x="483" y="1021">ITPR3</text></g>
<g id="d-Ca"><text x="540" y="1061">Ca<tspan font-size="7" dy="-4">2+</tspan></text></g>
<g id="d-PRKCA"><circle class="d G3" cx="413" cy="1127" r="10.5"/><text x="415" y="1131">PRKCA</text></g>
<g id="d-PRKCB"><circle class="d G3" cx="390" cy="1145" r="10.5"/><text x="393" y="1149">PRKCB</text></g>
<g id="d-PRKCG"><circle class="n G2" cx="420" cy="1158" r="10.5"/><text x="422" y="1162">PRKCG</text></g>
<g id="d-ITPKA"><circle class="d G3" cx="500" cy="1135" r="10.5"/><text x="502" y="1139">ITPKA</text></g>
<g id="d-ITPKB"><circle class="n G3" cx="517" cy="1155" r="10.5"/><text x="517" y="1159">ITPKB</text></g>
<g id="d-CALML3"><circle class="n R3" cx="652" cy="1095" r="10.5"/><text x="657" y="1099">CALML3</text></g>
<g id="d-CALML5"><circle class="d R1" cx="673" cy="1113" r="10.5"/><text x="675" y="1117">CALML5</text></g>
<g id="d-CAMK2G"><circle class="n G3" cx="612" cy="1148" r="10.5"/><text x="613" y="1152">CAMK2G</text></g>
<g id="d-MYLK"><circle class="d G1" cx="727" cy="1148" r="10.5"/><text x="727" y="1152">MYLK</text></g>
<text class="out" x="463" y="1186">Other signaling</text>
<text class="out" x="463" y="1198">pathways</text>
<text class="out" x="613" y="1191">Proliferation</text>
<text class="out" x="727" y="1191">Metabolism</text>
</g>
</svg>
